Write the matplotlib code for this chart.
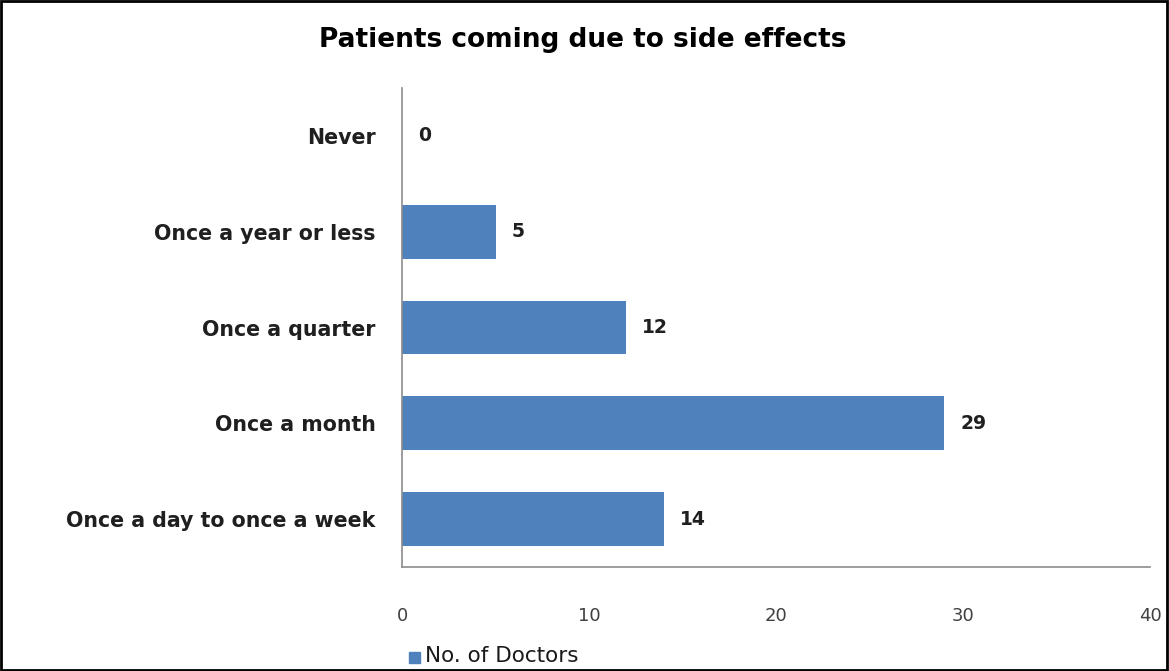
import matplotlib
matplotlib.use("Agg")
import matplotlib.pyplot as plt
from matplotlib.patches import Rectangle

categories = ["Once a day to once a week", "Once a month", "Once a quarter",
              "Once a year or less", "Never"]
values = [14, 29, 12, 5, 0]
xticks = [0, 10, 20, 30, 40]
title = "Patients coming due to side effects"
series_name = "No. of Doctors"
bar_color = "#4F81BD"

plt.rcParams['font.family'] = ['DejaVu Sans']

fig = plt.figure(figsize=(11.69, 6.71), dpi=100)
ax = fig.add_axes([402/1169, (671-567)/671, (1150-402)/1169, (567-88)/671])

ax.barh(range(len(categories)), values, height=0.56, color=bar_color)
ax.set_xlim(0, 40)
ax.set_ylim(-0.5, len(categories) - 0.5)
ax.set_xticks(xticks)
ax.set_xticklabels([str(t) for t in xticks], fontsize=13, color="#404040")
ax.set_yticks(range(len(categories)))
ax.set_yticklabels(categories, fontsize=14.8, fontweight="bold", color="#1f1f1f")
ax.tick_params(axis='x', length=0, pad=29)
ax.tick_params(axis='y', length=0, pad=19)
for s in ["top", "right"]:
    ax.spines[s].set_visible(False)
for s in ["left", "bottom"]:
    ax.spines[s].set_color("#8c8c8c")
    ax.spines[s].set_linewidth(1.2)

for i, v in enumerate(values):
    ax.annotate(str(v), xy=(v, i), xytext=(11.5, 0), textcoords="offset points",
                ha="left", va="center", fontsize=13.5, fontweight="bold", color="#1f1f1f")

fig.text(583/1169, 1 - 40/671, title, ha="center", va="center",
         fontsize=19, fontweight="bold", color="black")

# legend
fig.patches.append(Rectangle((409/1169, 1 - 663/671), 11/1169, 11/671,
                             transform=fig.transFigure, color=bar_color))
fig.text(425/1169, 1 - 656/671, series_name, ha="left", va="center",
         fontsize=15.5, color="#1a1a1a")

# border
fig.patches.append(Rectangle((0.001, 0.002), 0.997, 0.996, transform=fig.transFigure,
                             fill=False, edgecolor="black", linewidth=2))

fig.savefig("out.png", dpi=100)
